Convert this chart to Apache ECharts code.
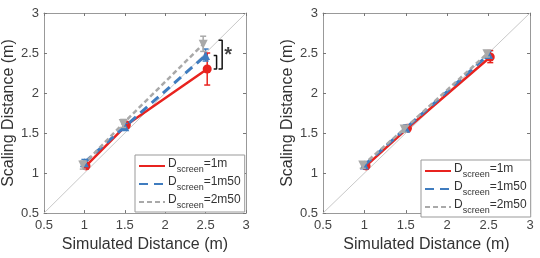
<!DOCTYPE html>
<html style="height: 100%">
<head>
<meta charset="utf-8">
<script src="https://cdn.jsdelivr.net/npm/echarts@6/dist/echarts.min.js"></script>
</head>
<body style="height: 100%; margin: 0; background: #fff">
<div id="container" style="width: 540px; height: 258px"></div>
<script type="text/javascript">
// tick labels shared by both panels
var ticks = [0.5, 1, 1.5, 2, 2.5, 3];
var names = ['1m', '1m50', '2m50'];

// left panel: [x, mean, low, high]
var leftRed  = [[1.02, 1.09, 1.05, 1.13], [1.52, 1.60, 1.57, 1.64], [2.52, 2.30, 2.10, 2.50]];
var leftBlue = [[1.00, 1.13, 1.09, 1.17], [1.50, 1.58, 1.54, 1.62], [2.50, 2.47, 2.40, 2.55]];
var leftGray = [[0.98, 1.10, 1.05, 1.15], [1.48, 1.62, 1.57, 1.67], [2.47, 2.61, 2.52, 2.71]];

// right panel
var rightRed  = [[1.02, 1.09, 1.05, 1.13], [1.52, 1.56, 1.53, 1.60], [2.52, 2.45, 2.38, 2.53]];
var rightBlue = [[1.00, 1.10, 1.06, 1.14], [1.50, 1.56, 1.52, 1.60], [2.50, 2.48, 2.44, 2.52]];
var rightGray = [[0.98, 1.10, 1.06, 1.14], [1.48, 1.55, 1.51, 1.59], [2.48, 2.49, 2.45, 2.53]];

// significance brackets (left panel)
var bracketSmall = [[2.60, 2.47], [2.636, 2.47], [2.636, 2.30], [2.60, 2.30]];
var bracketBig = [[2.66, 2.66], [2.705, 2.66], [2.705, 2.30], [2.66, 2.30]];
var star = [[2.78, 2.47]];
var diag = [[0.5, 0.5], [3, 3]];

var colors = ['#e8231f', '#3f7cbf', '#a9a9a9'];
var dashes = ['solid', [9, 6], [5, 3]];
var widths = [2.5, 3, 2.5];
var symbols = ['circle', 'triangle', 'path://M0,0 L10,0 L5,9 Z'];
var font = 'Liberation Sans, Arial, sans-serif';

var dom = document.getElementById('container');
var myChart = echarts.init(dom);

function xAx(grid, pos) {
    var main = pos === 'bottom';
    return {
        type: 'value', gridIndex: grid, position: pos, min: 0.5, max: 3, interval: 0.5,
        name: main ? 'Simulated Distance (m)' : '', nameLocation: 'middle', nameGap: 21,
        nameTextStyle: { fontSize: 16, color: '#333', fontFamily: font },
        axisLine: { show: true, onZero: false, lineStyle: { color: '#999' } },
        axisTick: { show: true, inside: true, length: 3, lineStyle: { color: '#777' } },
        axisLabel: { show: main, margin: 6, fontSize: 13, color: '#444', fontFamily: font },
        splitLine: { show: false }
    };
}
function yAx(grid, pos, gap) {
    var main = pos === 'left';
    return {
        type: 'value', gridIndex: grid, position: pos, min: 0.5, max: 3, interval: 0.5,
        name: main ? 'Scaling Distance (m)' : '', nameLocation: 'middle', nameGap: gap,
        nameTextStyle: { fontSize: 16, color: '#333', fontFamily: font },
        axisLine: { show: true, onZero: false, lineStyle: { color: '#999' } },
        axisTick: { show: true, inside: true, length: 3, lineStyle: { color: '#777' } },
        axisLabel: { show: main, margin: 5, fontSize: 13, color: '#444', fontFamily: font },
        splitLine: { show: false }
    };
}

function errRender(color) {
    return function (params, api) {
        var x = api.value(0);
        var lo = api.coord([x, api.value(2)]);
        var hi = api.coord([x, api.value(3)]);
        var st = { stroke: color, lineWidth: 1.5 };
        return {
            type: 'group',
            children: [
                { type: 'line', shape: { x1: lo[0], y1: lo[1], x2: hi[0], y2: hi[1] }, style: st },
                { type: 'line', shape: { x1: lo[0] - 3, y1: lo[1], x2: lo[0] + 3, y2: lo[1] }, style: st },
                { type: 'line', shape: { x1: hi[0] - 3, y1: hi[1], x2: hi[0] + 3, y2: hi[1] }, style: st }
            ]
        };
    };
}

var series = [];
[[leftRed, leftBlue, leftGray], [rightRed, rightBlue, rightGray]].forEach(function (panel, g) {
    series.push({
        type: 'line', xAxisIndex: g * 2, yAxisIndex: g * 2, data: diag, symbol: 'none', silent: true,
        lineStyle: { color: '#c8c8c8', width: 1 }, z: 1
    });
    panel.forEach(function (d, i) {
        series.push({
            type: 'custom', xAxisIndex: g * 2, yAxisIndex: g * 2, data: d,
            renderItem: errRender(colors[i]), z: 2 + i
        });
        series.push({
            type: 'line', name: names[i], xAxisIndex: g * 2, yAxisIndex: g * 2,
            data: d.map(function (r) { return [r[0], r[1]]; }),
            symbol: symbols[i], symbolSize: i === 0 ? 9 : 9, showSymbol: true,
            itemStyle: { color: colors[i] },
            lineStyle: { color: colors[i], width: widths[i], type: dashes[i] },
            z: 2 + i
        });
    });
});
[bracketSmall, bracketBig].forEach(function (b) {
    series.push({
        type: 'line', xAxisIndex: 0, yAxisIndex: 0, data: b, symbol: 'none',
        lineStyle: { color: '#111', width: 1.5 }, z: 10
    });
});
series.push({
    type: 'scatter', xAxisIndex: 0, yAxisIndex: 0, data: star, symbolSize: 0,
    label: { show: true, position: 'inside', formatter: '*', fontSize: 20, fontWeight: 'bold', color: '#111', fontFamily: font }
});

function legendOf(left, top) {
    return {
        orient: 'vertical', left: left, top: top, itemGap: 1, itemWidth: 26, itemHeight: 12,
        backgroundColor: '#fff', borderColor: '#999', borderWidth: 1, borderRadius: 0,
        padding: [2, 4, 2, 3], data: names,
        itemStyle: { opacity: 0 },
        formatter: function (n) { return '{a|D}{b|screen}{a|=' + n + '}'; },
        textStyle: {
            padding: [0, 0, 0, -2],
            rich: {
                a: { fontSize: 12, color: '#333', fontFamily: font, lineHeight: 16, verticalAlign: 'top' },
                b: { fontSize: 9, color: '#333', fontFamily: font, lineHeight: 16, verticalAlign: 'bottom', padding: [8, 0, 0, 0] }
            }
        }
    };
}

option = {
    animation: false,
    grid: [
        { left: 41, top: 13, width: 205, height: 206 },
        { left: 323, top: 13, width: 207, height: 206 }
    ],
    xAxis: [xAx(0, 'bottom'), xAx(0, 'top'), xAx(1, 'bottom'), xAx(1, 'top')],
    yAxis: [yAx(0, 'left', 21), yAx(0, 'right', 0), yAx(1, 'left', 23), yAx(1, 'right', 0)],
    legend: [legendOf(135, 155), legendOf(421, 160)],
    series: series
};

myChart.setOption(option);
</script>
</body>
</html>
